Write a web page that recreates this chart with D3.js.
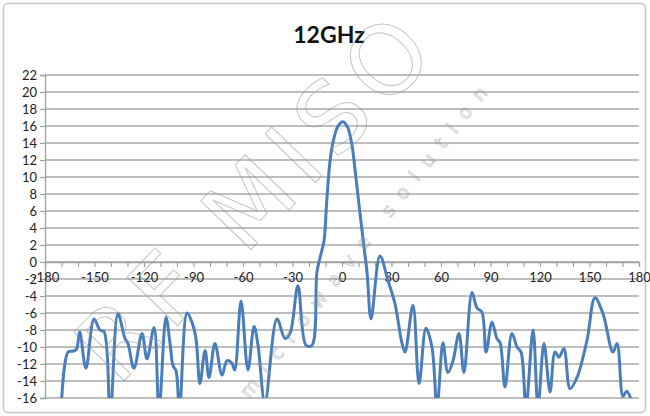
<!DOCTYPE html>
<html>
<head>
<meta charset="utf-8">
<script src="https://cdn.jsdelivr.net/npm/d3@7/dist/d3.min.js"></script>
<style>
  html, body { margin: 0; padding: 0; background: #fff; }
  svg { display: block; }
</style>
</head>
<body>
<script>
// Radiation pattern at 12 GHz: gain (dB) versus angle (degrees)
const title = "12GHz";
const angles = [
  -170, -166, -163.5, -161, -159, -155.2, -150.3, -146.7, -144.2, -140.5,
  -135.8, -131.5, -129.7, -126.1, -121.2, -118.2, -113.9, -110.9, -106.7, -104.2,
  -102.4, -100.6, -98.5, -93.9, -90.9, -88.5, -86.1, -83.0, -80.6, -77.0,
  -72.7, -69.7, -66.7, -65.0, -61.2, -57.0, -53.3, -50.9, -46.7, -39.4,
  -34.5, -31.5, -26.7, -21.8, -18.2, -15.2, -13.3, -10.9, -9.3, -7.3,
  -5.2, -2.4, 0.6, 3.5, 6.0, 8.3, 10.5, 12.7, 15.2, 17.6,
  23.0, 27.9, 32.1, 36.4, 38.2, 43.0, 46.7, 50.9, 54.5, 57.6,
  61.2, 64.2, 67.3, 70.9, 73.9, 78.8, 81.8, 84.8, 87.3, 90.9,
  93.9, 95.8, 98.8, 103.0, 106.1, 108.5, 111.5, 115.8, 118.8, 122.4,
  126.1, 129.1, 131.5, 134.5, 138.2, 142.4, 148.5, 153.3, 158.2, 164.2,
  166.7, 170.3, 172.5, 175.5
];
const gains = [
  -16.5, -10.6, -10.5, -10.3, -8.2, -12.5, -6.7, -8.0, -8.2, -18,
  -6.1, -9.0, -9.6, -12.5, -8.4, -11.4, -7.7, -17.5, -6.5, -9.6,
  -12.2, -12.8, -17.5, -6.0, -7.1, -9.0, -14.3, -10.4, -13.6, -9.6,
  -13.3, -11.6, -11.9, -12.7, -4.6, -12.7, -7.6, -9.8, -16.5, -6.7,
  -9.0, -8.4, -2.8, -9.8, -9.8, -1.2, 0.5, 2.5, 7.0, 11.8,
  14.3, 16.0, 16.5, 15.8, 13.8, 10.2, 6.4, 2.8, -1.3, -6.7,
  0.7, -2.2, -4.9, -9.6, -10.6, -5.1, -14.3, -7.8, -10.0, -17.0,
  -9.5, -13.0, -11.6, -8.4, -13.0, -3.6, -5.4, -5.9, -10.6, -7.1,
  -9.0, -9.5, -14.7, -8.4, -10.0, -10.6, -17.0, -8.0, -17.0, -9.6,
  -15.3, -10.6, -11.2, -10.2, -14.9, -13.6, -9.2, -4.2, -6.1, -10.6,
  -9.6, -15.8, -15.2, -16.3
];
const xTickLabels = [-180, -150, -120, -90, -60, -30, 0, 30, 60, 90, 120, 150, 180];
const yTickLabels = [-16, -14, -12, -10, -8, -6, -4, -2, 0, 2, 4, 6, 8, 10, 12, 14, 16, 18, 20, 22];

const W = 650, H = 416;
const plot = { left: 45, right: 639, top: 75, bottom: 398 };
const labelFont = "Lato, 'Open Sans', sans-serif";

const svg = d3.select("body").append("svg")
  .attr("width", W).attr("height", H);

// outer chart frame
svg.append("rect")
  .attr("x", 3.5).attr("y", 3.5)
  .attr("width", W - 8).attr("height", H - 7)
  .attr("rx", 4)
  .attr("fill", "#fff")
  .attr("stroke", "#c8c8c8")
  .attr("stroke-width", 1.5);

const x = d3.scaleLinear().domain([-180, 180]).range([plot.left, plot.right]);
const y = d3.scaleLinear().domain([-16, 22]).range([plot.bottom, plot.top]);

// horizontal gridlines
svg.append("g")
  .selectAll("line")
  .data(yTickLabels)
  .join("line")
  .attr("x1", plot.left).attr("x2", plot.right)
  .attr("y1", d => y(d)).attr("y2", d => y(d))
  .attr("stroke", "#a9a9a9")
  .attr("stroke-width", 1.3);

// y axis on the left
const yAxis = d3.axisLeft(y)
  .tickValues(yTickLabels)
  .tickSize(5)
  .tickPadding(4)
  .tickFormat(d => d);
const gy = svg.append("g")
  .attr("transform", `translate(${plot.left},0)`)
  .call(yAxis);
gy.select(".domain").attr("stroke", "#a0a0a0").attr("stroke-width", 1.3);
gy.selectAll(".tick line").attr("stroke", "#a0a0a0").attr("stroke-width", 1.2);
gy.selectAll(".tick text")
  .attr("font-family", labelFont)
  .attr("font-size", 13)
  .attr("fill", "#222")
  .attr("x", -8);

// x axis crossing at 0 dB, ticks every 10 degrees, labels every 30
const xAxis = d3.axisBottom(x)
  .tickValues(d3.range(-180, 181, 10))
  .tickSize(5)
  .tickPadding(7)
  .tickFormat(d => xTickLabels.includes(d) ? d : "");
const gx = svg.append("g")
  .attr("transform", `translate(0,${y(0)})`)
  .call(xAxis);
gx.select(".domain").attr("stroke", "#a0a0a0").attr("stroke-width", 1.3);
gx.selectAll(".tick line").attr("stroke", "#a0a0a0").attr("stroke-width", 1.2);
gx.selectAll(".tick text")
  .attr("font-family", labelFont)
  .attr("font-size", 13)
  .attr("fill", "#222")
  .attr("dy", "0.6em");

// title
svg.append("text")
  .attr("x", 329).attr("y", 43)
  .attr("text-anchor", "middle")
  .attr("font-family", labelFont)
  .attr("font-weight", 700)
  .attr("font-size", 23)
  .attr("fill", "#111")
  .text(title);

// pattern curve, clipped to the plot area
svg.append("clipPath").attr("id", "plotClip")
  .append("rect")
  .attr("x", plot.left).attr("y", plot.top)
  .attr("width", plot.right - plot.left).attr("height", plot.bottom - plot.top);

const pts = angles.map((a, i) => [a, gains[i]]);
const line = d3.line()
  .x(d => x(d[0]))
  .y(d => y(d[1]))
  .curve(d3.curveCatmullRom.alpha(0.5));

svg.append("path")
  .datum(pts)
  .attr("clip-path", "url(#plotClip)")
  .attr("d", line)
  .attr("fill", "none")
  .attr("stroke", "#4a7ebb")
  .attr("stroke-width", 3)
  .attr("stroke-linejoin", "round")
  .attr("stroke-linecap", "round");

// faint brand watermark across the chart
const wm = svg.append("g").attr("pointer-events", "none");
wm.append("text")
  .attr("transform", "translate(262,200) rotate(-46)")
  .attr("text-anchor", "middle")
  .attr("dominant-baseline", "middle")
  .attr("font-family", "'DejaVu Sans', sans-serif")
  .attr("font-size", 96)
  .attr("letter-spacing", 10)
  .attr("fill", "none")
  .attr("stroke", "rgba(150,150,150,0.55)")
  .attr("stroke-width", 1)
  .text("RF MISO");
wm.append("text")
  .attr("transform", "translate(368,238) rotate(-52)")
  .attr("text-anchor", "middle")
  .attr("dominant-baseline", "middle")
  .attr("font-family", "'DejaVu Sans', sans-serif")
  .attr("font-size", 19)
  .attr("letter-spacing", 12)
  .attr("fill", "none")
  .attr("stroke", "rgba(150,150,150,0.55)")
  .attr("stroke-width", 0.8)
  .text("microwave solution");
</script>
</body>
</html>
